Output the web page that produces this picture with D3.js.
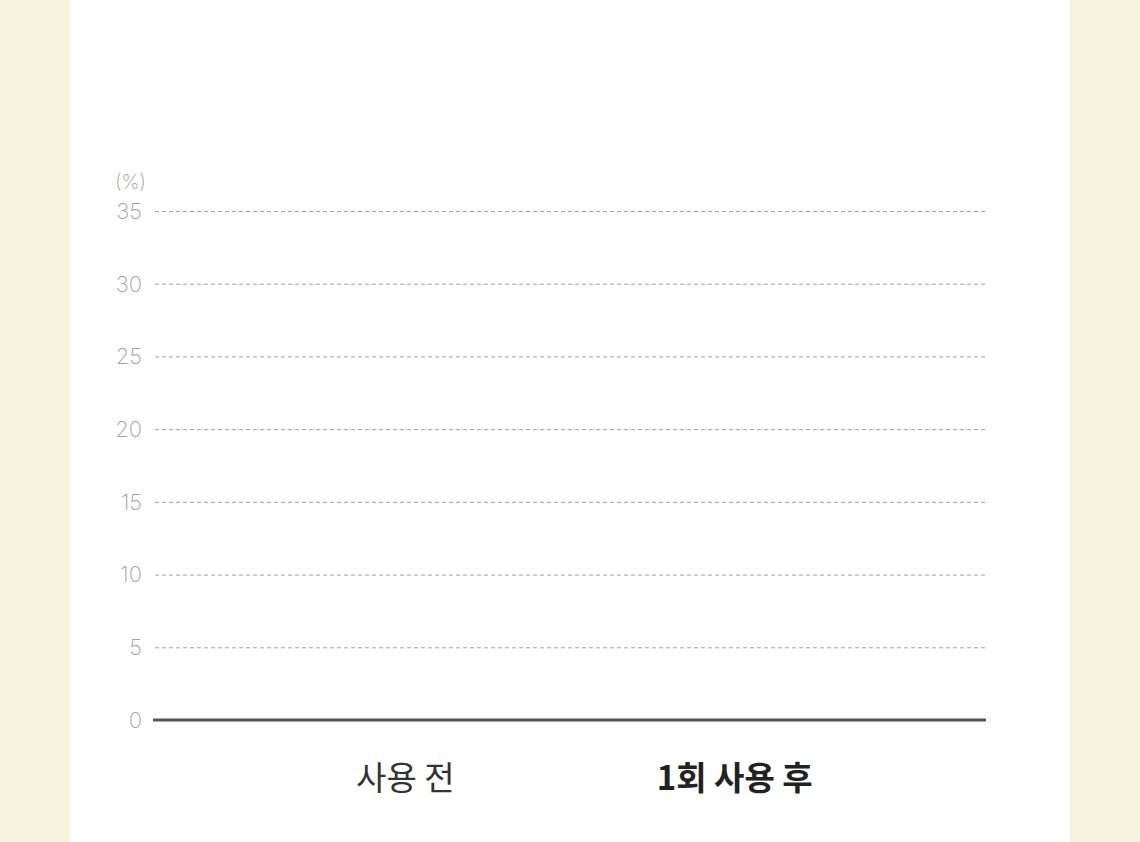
<!DOCTYPE html>
<html>
<head>
<meta charset="utf-8">
<script src="https://d3js.org/d3.v7.min.js"></script>
<style>
  html, body { margin: 0; padding: 0; background: #f6f4dc; }
  svg { display: block; }
</style>
</head>
<body>
<svg id="vis"></svg>
<script>
  // categories on the x axis, y ticks (percent)
  var categories = ['사용 전', '1회 사용 후'];
  var yTicks = [0, 5, 10, 15, 20, 25, 30, 35];
  var yUnit = '(%)';

  var width = 1140, height = 842;

  var svg = d3.select('#vis')
      .attr('width', width)
      .attr('height', height);

  // white panel
  svg.append('rect')
      .attr('x', 70).attr('y', 0)
      .attr('width', 1000).attr('height', height)
      .attr('fill', '#ffffff');

  var yScale = d3.scaleLinear()
      .domain([0, 35])
      .range([720, 211]);

  var xScale = d3.scalePoint()
      .domain(categories)
      .range([155, 985])
      .padding(0.76);

  // dashed grid lines (skip 0, drawn as baseline)
  svg.selectAll('line.grid')
      .data(yTicks.filter(function(d) { return d > 0; }))
      .enter().append('line')
      .attr('class', 'grid')
      .attr('x1', 155).attr('x2', 986)
      .attr('y1', function(d) { return yScale(d) + 0.5; })
      .attr('y2', function(d) { return yScale(d) + 0.5; })
      .attr('stroke', '#a0a0a0')
      .attr('stroke-width', 1)
      .attr('stroke-dasharray', '4,3');

  // tick labels
  svg.selectAll('text.tick')
      .data(yTicks)
      .enter().append('text')
      .attr('class', 'tick')
      .attr('x', 142)
      .attr('y', function(d) { return yScale(d); })
      .attr('dy', '0.36em')
      .attr('text-anchor', 'end')
      .attr('font-family', 'Inter, "Noto Sans CJK KR", sans-serif')
      .attr('font-weight', 200)
      .attr('font-size', 22)
      .attr('fill', '#a0a0a0')
      .text(function(d) { return d; });

  svg.append('text')
      .attr('x', 146)
      .attr('y', 182)
      .attr('dy', '0.36em')
      .attr('text-anchor', 'end')
      .attr('font-family', 'Inter, "Noto Sans CJK KR", sans-serif')
      .attr('font-weight', 200)
      .attr('font-size', 20)
      .attr('fill', '#a0a0a0')
      .text(yUnit);

  // baseline
  svg.append('line')
      .attr('x1', 153).attr('x2', 986)
      .attr('y1', yScale(0)).attr('y2', yScale(0))
      .attr('stroke', '#555555')
      .attr('stroke-width', 3);

  // category labels
  svg.selectAll('text.cat')
      .data(categories)
      .enter().append('text')
      .attr('class', 'cat')
      .attr('x', function(d) { return xScale(d); })
      .attr('y', 778)
      .attr('dy', '0.36em')
      .attr('text-anchor', 'middle')
      .attr('font-family', '"Noto Sans CJK KR", sans-serif')
      .attr('font-weight', function(d, i) { return i === 1 ? 700 : 400; })
      .attr('font-size', 33)
      .attr('fill', function(d, i) { return i === 1 ? '#222222' : '#333333'; })
      .text(function(d) { return d; });
</script>
</body>
</html>
